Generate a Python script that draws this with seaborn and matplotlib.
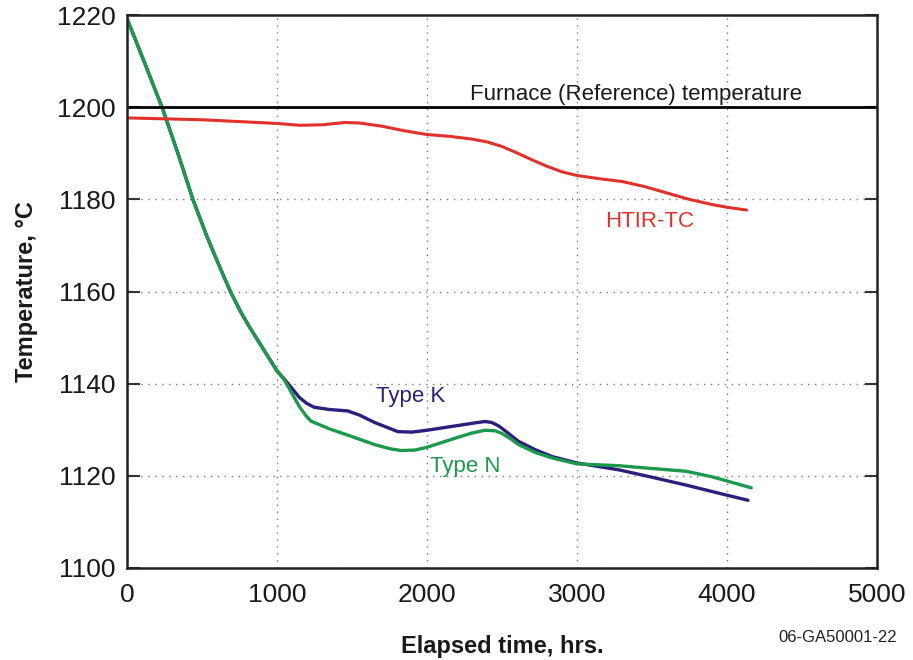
import matplotlib
matplotlib.use("Agg")
import matplotlib.pyplot as plt
import seaborn as sns
import pandas as pd

# values (hours, deg C)
htir_hours = [0, 500, 1000, 1150, 1300, 1450, 1550, 1700, 1850, 2000, 2150, 2300, 2400,
              2500, 2600, 2700, 2800, 2900, 3000, 3150, 3300, 3450, 3600, 3750, 3900,
              4000, 4130]
htir_temp = [1197.7, 1197.3, 1196.5, 1196.1, 1196.2, 1196.7, 1196.6, 1195.9, 1194.9,
             1194.1, 1193.7, 1193.1, 1192.5, 1191.5, 1190.1, 1188.6, 1187.2, 1186.0,
             1185.2, 1184.5, 1183.9, 1182.8, 1181.4, 1180.0, 1178.9, 1178.3, 1177.7]

typek_hours = [0, 120, 240, 340, 440, 533, 610, 690, 760, 823, 900, 1000, 1050, 1100,
               1150, 1200, 1248, 1350, 1471, 1550, 1650, 1806, 1900, 2000, 2200, 2300,
               2386, 2431, 2480, 2540, 2610, 2720, 2833, 3000, 3280, 3500, 3727, 3950,
               4140]
typek_temp = [1219.3, 1209.5, 1199.5, 1190.0, 1180.0, 1172.0, 1166.0, 1160.0, 1155.5,
              1152.0, 1148.0, 1142.8, 1141.0, 1139.0, 1137.0, 1135.7, 1134.9, 1134.4,
              1134.1, 1133.2, 1131.6, 1129.6, 1129.5, 1129.9, 1130.9, 1131.4, 1131.8,
              1131.6, 1130.8, 1129.3, 1127.5, 1125.7, 1124.2, 1122.8, 1121.3, 1119.7,
              1118.0, 1116.2, 1114.7]

typen_hours = [0, 120, 240, 340, 440, 533, 610, 690, 760, 823, 900, 1000, 1050, 1100,
               1150, 1190, 1226, 1350, 1494, 1650, 1750, 1829, 1920, 2000, 2200, 2300,
               2386, 2453, 2500, 2560, 2610, 2720, 2833, 3000, 3280, 3500, 3727, 3900,
               4162]
typen_temp = [1219.3, 1209.5, 1199.5, 1190.0, 1180.0, 1172.0, 1166.0, 1160.0, 1155.5,
              1152.0, 1148.0, 1142.8, 1140.8, 1137.9, 1135.0, 1133.2, 1131.9, 1130.2,
              1128.6, 1126.8, 1125.9, 1125.5, 1125.6, 1126.2, 1128.3, 1129.3, 1129.9,
              1129.8, 1129.2, 1128.0, 1126.8, 1125.1, 1123.9, 1122.6, 1122.2, 1121.6,
              1121.0, 1119.8, 1117.4]

furnace_temp = 1200
x_ticks = [0, 1000, 2000, 3000, 4000, 5000]
y_ticks = [1100, 1120, 1140, 1160, 1180, 1200, 1220]

sns.set_style("white")
plt.rcParams['font.family'] = ['Liberation Sans', 'DejaVu Sans']

fig = plt.figure(figsize=(9.13, 6.6), dpi=100)
ax = fig.add_axes([0.139, 0.1394, 0.8216, 0.8376])

df_k = pd.DataFrame({'hours': typek_hours, 'temp': typek_temp})
df_n = pd.DataFrame({'hours': typen_hours, 'temp': typen_temp})
df_h = pd.DataFrame({'hours': htir_hours, 'temp': htir_temp})

sns.lineplot(data=df_k, x='hours', y='temp', color='#2b1f7e', lw=2.4, ax=ax, sort=False)
sns.lineplot(data=df_n, x='hours', y='temp', color='#1b9a4c', lw=2.4, ax=ax, sort=False)
sns.lineplot(data=df_h, x='hours', y='temp', color='#e2312a', lw=2.2, ax=ax, sort=False)
ax.axhline(furnace_temp, color='black', lw=2.0)

ax.set_xlim(0, 5000)
ax.set_ylim(1100, 1220)
ax.set_xticks(x_ticks)
ax.set_yticks(y_ticks)
ax.grid(True, linestyle=(0, (1, 4)), color='#777777', lw=1.0)
ax.tick_params(axis='both', labelsize=19, direction='in', length=9, width=1.5,
               color='#333333', labelcolor='#1a1a1a')
ax.tick_params(axis='y', right=True, left=True, pad=8)
ax.tick_params(axis='x', pad=11)
for s in ax.spines.values():
    s.set_color('#222222')
    s.set_linewidth(1.8)

ax.set_xlabel('Elapsed time, hrs.', fontsize=17, fontweight='bold', labelpad=20,
              color='#1a1a1a')
ax.set_ylabel('Temperature, °C', fontsize=17, fontweight='bold', labelpad=14,
              color='#1a1a1a')

ax.text(2290, 1201.5, 'Furnace (Reference) temperature', fontsize=16, color='#1a1a1a')
ax.text(3190, 1175.2, 'HTIR-TC', fontsize=16, color='#e2312a', va='center')
ax.text(1660, 1137.3, 'Type K', fontsize=16, color='#2b1f7e', va='center')
ax.text(2020, 1122.0, 'Type N', fontsize=16, color='#1b9a4c', va='center')

fig.text(0.982, 0.022, '06-GA50001-22', fontsize=12, ha='right', va='bottom',
         color='#222222')

fig.savefig('out.png', dpi=100)
